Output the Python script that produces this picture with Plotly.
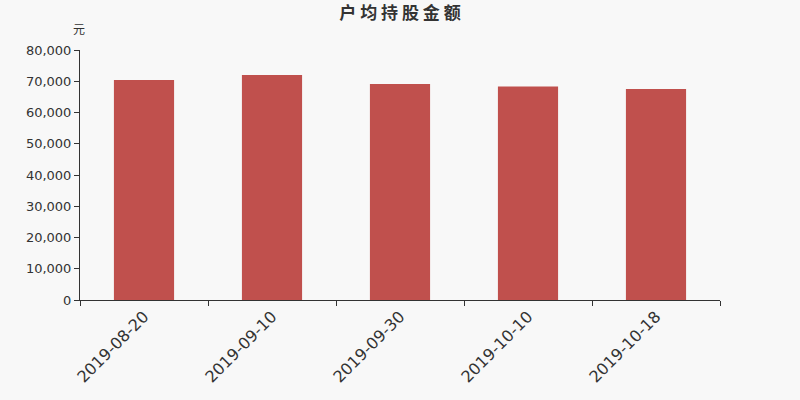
import plotly.graph_objects as go

# 户均持股金额 (元)
dates = ["2019-08-20", "2019-09-10", "2019-09-30", "2019-10-10", "2019-10-18"]
amounts = [70400, 72000, 69100, 68350, 67500]

y_ticks = [0, 10000, 20000, 30000, 40000, 50000, 60000, 70000, 80000]
y_labels = ["{:,}".format(v) for v in y_ticks]

fig = go.Figure()
fig.add_trace(go.Bar(x=dates, y=amounts, marker_color="#c0504d",
                     marker_line_width=0, width=0.47))

axis_font = dict(family="DejaVu Sans", size=13, color="#333333")
fig.update_layout(
    width=800, height=400,
    paper_bgcolor="#f8f8f8", plot_bgcolor="#f8f8f8",
    margin=dict(l=80, r=80, t=50, b=100),
    showlegend=False,
    title=dict(text="<b>户 均 持 股 金 额</b>", x=0.5, xanchor="center",
               y=0.967, yanchor="middle",
               font=dict(family="Noto Sans CJK SC", size=17, color="#333333")),
    xaxis=dict(type="category", showline=True, linecolor="#333333",
               ticks="outside", tickson="boundaries", ticklen=5,
               tickcolor="#333333", tickangle=-45,
               tickfont=dict(family="DejaVu Sans", size=16, color="#333333"),
               showgrid=False),
    yaxis=dict(range=[0, 80000], tickvals=y_ticks, ticktext=y_labels,
               showline=True, linecolor="#333333", ticks="outside", ticklen=5,
               tickcolor="#333333", tickfont=axis_font, showgrid=False,
               zeroline=False),
    annotations=[dict(text="元", xref="paper", yref="paper", x=0, y=1.085,
                      xanchor="center", yanchor="middle", xshift=-1, showarrow=False,
                      font=dict(family="Noto Sans CJK SC", size=12, color="#333333"))],
)

# page body has a default 8px margin; drop it so the figure fills the window
fig.write_html("out.html", config={"displayModeBar": False},
               post_script="document.body.style.margin='0';")
